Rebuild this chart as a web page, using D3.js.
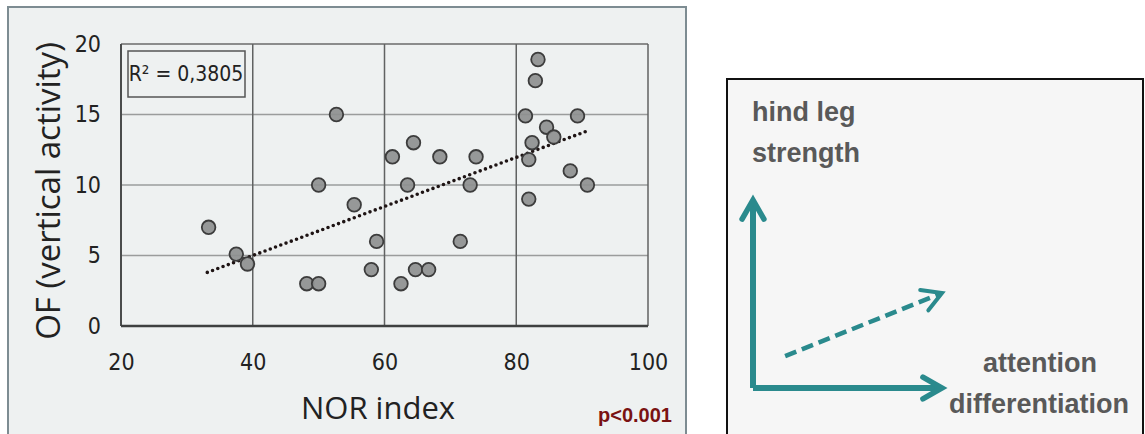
<!DOCTYPE html>
<html>
<head>
<meta charset="utf-8">
<script src="https://cdn.jsdelivr.net/npm/d3@7"></script>
<style>
  body { margin: 0; background: #fff; }
  svg { display: block; }
</style>
</head>
<body>
<div id="chart"></div>
<script>
// data
var norIndex = [33.3, 37.5, 39.2, 48.2, 50.0, 50.0, 52.7, 55.4, 58.0, 58.8,
                61.2, 62.5, 63.5, 64.4, 64.7, 66.7, 68.4, 71.5, 73.0, 73.9,
                81.4, 81.9, 81.9, 82.4, 82.9, 83.3, 84.6, 85.7, 88.2, 89.3, 90.8];
var verticalActivity = [7.0, 5.1, 4.4, 3.0, 3.0, 10.0, 15.0, 8.6, 4.0, 6.0,
                        12.0, 3.0, 10.0, 13.0, 4.0, 4.0, 12.0, 6.0, 10.0, 12.0,
                        14.9, 9.0, 11.8, 13.0, 17.4, 18.9, 14.1, 13.4, 11.0, 14.9, 10.0];
var trendX = [33.1, 90.6];
var trendY = [3.8, 13.8];
var xTicks = [20, 40, 60, 80, 100];
var yTicks = [0, 5, 10, 15, 20];
var rSquared = "0,3805";
var pValue = "p<0.001";

var W = 1145, H = 434;

var svg = d3.select('#chart')
    .append('svg')
    .attr('width', W)
    .attr('height', H);

// ---------- left panel ----------
svg.append('rect')
    .attr('x', 8).attr('y', 7)
    .attr('width', 678).attr('height', 440)
    .attr('fill', '#eef1f1')
    .attr('stroke', '#7d8c92')
    .attr('stroke-width', 2);

var xScale = d3.scaleLinear().domain([20, 100]).range([121, 648]);
var yScale = d3.scaleLinear().domain([0, 20]).range([326, 44]);

// horizontal grid
svg.append('g').selectAll('line')
    .data(yTicks.slice(1))
    .enter().append('line')
    .attr('x1', xScale(20)).attr('x2', xScale(100))
    .attr('y1', function (d) { return yScale(d); })
    .attr('y2', function (d) { return yScale(d); })
    .attr('stroke', function (d) { return d === 20 ? '#6a6a6a' : '#9a9c9c'; })
    .attr('stroke-width', 1.5);

// vertical grid
svg.append('g').selectAll('line')
    .data(xTicks.slice(1))
    .enter().append('line')
    .attr('x1', function (d) { return xScale(d); })
    .attr('x2', function (d) { return xScale(d); })
    .attr('y1', yScale(20)).attr('y2', yScale(0))
    .attr('stroke', '#606262')
    .attr('stroke-width', 1.5);

// left + bottom axis lines
svg.append('line')
    .attr('x1', xScale(20)).attr('x2', xScale(20))
    .attr('y1', yScale(20)).attr('y2', yScale(0))
    .attr('stroke', '#4a4c4c').attr('stroke-width', 2);
svg.append('line')
    .attr('x1', xScale(20)).attr('x2', xScale(100))
    .attr('y1', yScale(0)).attr('y2', yScale(0))
    .attr('stroke', '#3e4040').attr('stroke-width', 2.5);

var tickFont = '"Liberation Sans Narrow", "DejaVu Sans Condensed", sans-serif';

var yAxis = d3.axisLeft(yScale).tickValues(yTicks).tickSize(0).tickPadding(20);
var gy = svg.append('g')
    .attr('transform', 'translate(' + xScale(20) + ',0)')
    .call(yAxis);
gy.select('.domain').remove();
gy.selectAll('text')
    .attr('font-family', tickFont)
    .attr('font-size', 23)
    .attr('fill', '#222');

var xAxis = d3.axisBottom(xScale).tickValues(xTicks).tickSize(0).tickPadding(28);
var gx = svg.append('g')
    .attr('transform', 'translate(0,' + yScale(0) + ')')
    .call(xAxis);
gx.select('.domain').remove();
gx.selectAll('text')
    .attr('font-family', tickFont)
    .attr('font-size', 23)
    .attr('fill', '#222');

// trend line (dotted)
svg.append('line')
    .attr('x1', xScale(trendX[0])).attr('y1', yScale(trendY[0]))
    .attr('x2', xScale(trendX[1])).attr('y2', yScale(trendY[1]))
    .attr('stroke', '#1e1414')
    .attr('stroke-width', 3.6)
    .attr('stroke-linecap', 'round')
    .attr('stroke-dasharray', '0 5.6');

// points
svg.append('g').selectAll('circle')
    .data(norIndex)
    .enter().append('circle')
    .attr('cx', function (d) { return xScale(d); })
    .attr('cy', function (d, i) { return yScale(verticalActivity[i]); })
    .attr('r', 6.8)
    .attr('fill', '#8e9090')
    .attr('fill-opacity', 0.92)
    .attr('stroke', '#3c3c3c')
    .attr('stroke-width', 1.8);

// R² box
svg.append('rect')
    .attr('x', 128).attr('y', 51)
    .attr('width', 117).attr('height', 46)
    .attr('fill', 'none')
    .attr('stroke', '#555')
    .attr('stroke-width', 1.5);
svg.append('text')
    .attr('x', 186).attr('y', 81)
    .attr('text-anchor', 'middle')
    .attr('font-family', tickFont)
    .attr('font-size', 21)
    .attr('fill', '#222')
    .text('R² = ' + rSquared);

// axis titles
svg.append('text')
    .attr('transform', 'translate(60,191) rotate(-90)')
    .attr('text-anchor', 'middle')
    .attr('font-family', '"Open Sans", sans-serif')
    .attr('font-size', 33)
    .attr('fill', '#222')
    .text('OF (vertical activity)');

svg.append('text')
    .attr('x', 378).attr('y', 419)
    .attr('text-anchor', 'middle')
    .attr('font-family', '"Open Sans", sans-serif')
    .attr('font-size', 31)
    .attr('fill', '#222')
    .text('NOR index');

svg.append('text')
    .attr('x', 672).attr('y', 422)
    .attr('text-anchor', 'end')
    .attr('font-family', '"Liberation Sans", Arial, sans-serif')
    .attr('font-weight', 'bold')
    .attr('font-size', 20)
    .attr('fill', '#7a1212')
    .text(pValue);

// ---------- right panel (schematic) ----------
svg.append('rect')
    .attr('x', 727).attr('y', 79)
    .attr('width', 416).attr('height', 380)
    .attr('fill', '#f6f6f6')
    .attr('stroke', '#111')
    .attr('stroke-width', 2);

var teal = '#2a8a8d';
var sx = d3.scaleLinear().domain([0, 10]).range([753, 942]);
var sy = d3.scaleLinear().domain([0, 10]).range([388, 200]);

var arrows = [
    { from: [0, 0], to: [0, 10], dash: null },
    { from: [0, 0], to: [10, 0], dash: null },
    { from: [1.7, 1.7], to: [10, 5.05], dash: '12 6' }
];

var head = 22, spread = 0.52;
arrows.forEach(function (a) {
    var x1 = sx(a.from[0]), y1 = sy(a.from[1]);
    var x2 = sx(a.to[0]), y2 = sy(a.to[1]);
    var ang = Math.atan2(y2 - y1, x2 - x1);
    svg.append('line')
        .attr('x1', x1).attr('y1', y1)
        .attr('x2', x2 - Math.cos(ang) * 2).attr('y2', y2 - Math.sin(ang) * 2)
        .attr('stroke', teal)
        .attr('stroke-width', a.dash ? 4.5 : 6)
        .attr('stroke-dasharray', a.dash);
    var p = d3.path();
    p.moveTo(x2 - head * Math.cos(ang - spread), y2 - head * Math.sin(ang - spread));
    p.lineTo(x2, y2);
    p.lineTo(x2 - head * Math.cos(ang + spread), y2 - head * Math.sin(ang + spread));
    svg.append('path')
        .attr('d', p.toString())
        .attr('fill', 'none')
        .attr('stroke', teal)
        .attr('stroke-width', a.dash ? 4 : 5.5)
        .attr('stroke-linecap', 'round')
        .attr('stroke-linejoin', 'miter');
});

var labelFont = '"Liberation Sans", Arial, sans-serif';
[['hind leg', 752, 121], ['strength', 752, 162]].forEach(function (t) {
    svg.append('text')
        .attr('x', t[1]).attr('y', t[2])
        .attr('font-family', labelFont)
        .attr('font-weight', 'bold')
        .attr('font-size', 27)
        .attr('fill', '#595959')
        .text(t[0]);
});
[['attention', 1040, 372], ['differentiation', 1039, 413]].forEach(function (t) {
    svg.append('text')
        .attr('x', t[1]).attr('y', t[2])
        .attr('text-anchor', 'middle')
        .attr('font-family', labelFont)
        .attr('font-weight', 'bold')
        .attr('font-size', 27)
        .attr('fill', '#595959')
        .text(t[0]);
});
</script>
</body>
</html>
